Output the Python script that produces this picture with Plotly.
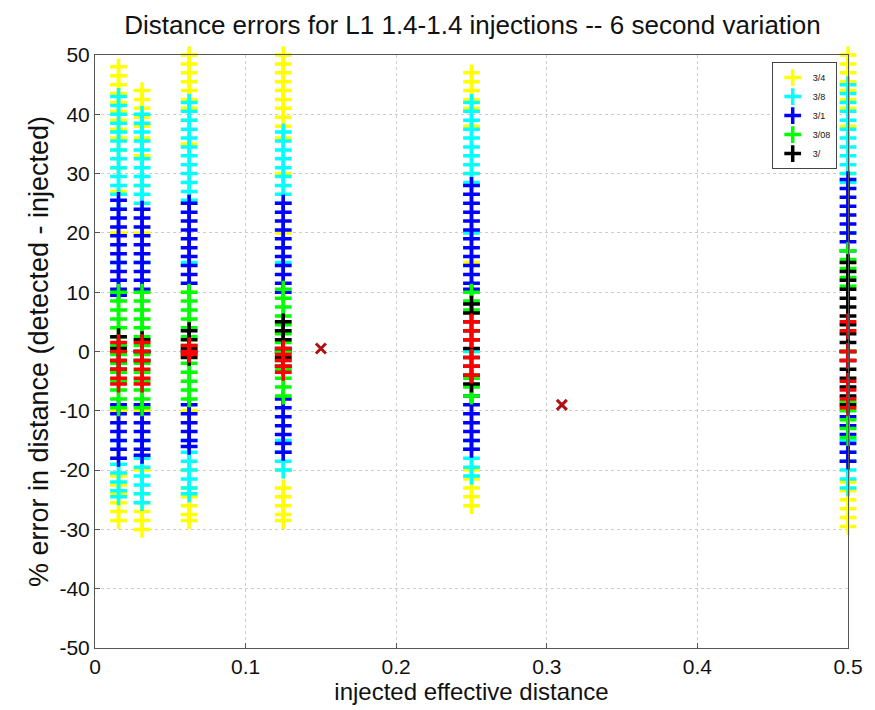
import plotly.graph_objects as go

dist = [0.015625, 0.03125, 0.0625, 0.125, 0.25, 0.5]

err_yellow = [
    [48, 46.5, 45, 43.5, 42, 40.5, 39, 37.5, 36, 34, 31, 27, 20, 10, 0, -10, -18, -21, -22.5, -24, -25.5, -27, -28.5],
    [44, 42.5, 41, 39.5, 38, 36, 33, 28, 20, 10, 0, -10, -20, -24, -25.5, -27, -28.5, -30],
    [50, 48.5, 47, 45.5, 44, 42.5, 41, 39, 35, 25, 10, 0, -10, -20, -23, -24.5, -26, -27.5, -28.5],
    [50, 48.5, 47, 45.5, 44, 42.5, 41, 39.5, 38, 36, 30, 20, 0, -20, -23, -24.5, -26, -27.5, -28.5],
    [47, 45.5, 44, 42.5, 41, 38, 30, 15, 0, -15, -20, -21.5, -23, -24.5, -26],
    [50, 48.5, 47, 45.5, 44, 42.5, 41, 38, 30, 15, 0, -15, -22, -23.5, -25, -26.5, -28, -29.5],
]
err_cyan = [
    [43, 41.5, 40, 38.5, 37, 35.5, 34, 32.5, 31, 29.5, 28, 26.5, 24, 15, 0, -15, -19, -20.5, -22, -23.5, -24.5],
    [40, 38.5, 37, 35.5, 34, 32.5, 31, 29.5, 28, 26.5, 25, 15, 0, -15, -18, -19.5, -21, -22.5, -24, -25.5],
    [42, 40.5, 39, 37.5, 36, 34.5, 33, 31.5, 30, 28.5, 27, 25.5, 15, 0, -15, -17, -18.5, -20, -21.5, -23, -24],
    [37, 35.5, 34, 32.5, 31, 29.5, 28, 26.5, 25, 15, 0, -15, -17, -18.5, -20],
    [42, 40.5, 39, 37.5, 36, 34.5, 33, 31.5, 30, 28.5, 20, 0, -15, -16.5, -18, -19.5, -21],
    [45, 43.5, 42, 40.5, 39, 37.5, 36, 34.5, 33, 31.5, 30, 28.5, 20, 0, -15, -17, -18.5, -20, -21.5, -23],
]
err_blue = [
    [25.5, 24, 22.5, 21, 19.5, 18, 16.5, 15, 13.5, 12, 10.5, 9.5, 0, -9, -10.5, -12, -13.5, -15, -16.5, -18],
    [24, 22.5, 21, 19.5, 18, 16.5, 15, 13.5, 12, 10.5, 0, -9, -10.5, -12, -13.5, -15, -16.5, -17.5],
    [25, 23.5, 22, 20.5, 19, 17.5, 16, 14.5, 13, 11.5, 0, -9, -10.5, -12, -13.5, -15, -16],
    [25, 23.5, 22, 20.5, 19, 17.5, 16, 14.5, 13, 11.5, 10, 0, -8, -9.5, -11, -12.5, -14, -15.5, -17],
    [28, 26.5, 25, 23.5, 22, 20.5, 19, 17.5, 16, 14.5, 13, 11.5, 10.5, -7.5, -9, -10.5, -12, -13.5, -15, -16.5],
    [29, 27.5, 26, 24.5, 23, 21.5, 20, 18.5, 17, -11, -12.5, -14, -15.5, -17, -18.5],
]
err_green = [
    [10, 8.5, 7, 5.5, 4, 2.5, 1, -0.5, -2, -3.5, -5, -6.5, -8, -9.5],
    [10, 8.5, 7, 5.5, 4, 2.5, 1, -0.5, -2, -3.5, -5, -6.5, -8, -9.5],
    [10, 8.5, 7, 5.5, 4, 2.5, 1, -0.5, -2, -3.5, -5, -6.5, -8],
    [10.5, 9, 7.5, 6, 4.5, 3, 1.5, 0, -1.5, -3, -4.5, -6, -7.5],
    [10, 8.5, 7, -4.5, -6, -7.5],
    [17, 15.5, 14, 12.5, 11, 0, -8.5, -10, -11.5, -13, -14.5],
]
err_black = [
    [2.5, 0.5, -1.5, -3],
    [2, 0, -1.5],
    [3.5, 2, 0.5, -1],
    [5, 3.5, 2, 0.5, -1, -2.5],
    [8, 6.5, 5, 3.5, 2, 0.5, -1, -2.5, -4, -5.5],
    [15, 13.5, 12, 10.5, 9, 7.5, 6, 4.5, 3, 1.5, 0, -1.5, -3, -4.5, -6, -7.5, -9],
]
err_red = [
    [1.5, 0, -1.5, -3, -4.5, -5.5],
    [1.5, 0, -1.5, -3, -4.5, -5.5],
    [1, 0, -0.5],
    [0.5, -0.5, -1.5, -2.5, -3.5],
    [5, 3.5, 2, -1, -2.5, -4],
    [5, 3.5, 0, -1.5, -5, -6.5, -8, -9.5],
]
mean_x = [0.15, 0.31]
mean_y = [0.5, -9]

x_ticks = [0, 0.1, 0.2, 0.3, 0.4, 0.5]
x_tick_labels = ["0", "0.1", "0.2", "0.3", "0.4", "0.5"]
y_ticks = [-50, -40, -30, -20, -10, 0, 10, 20, 30, 40, 50]
y_tick_labels = ["-50", "-40", "-30", "-20", "-10", "0", "10", "20", "30", "40", "50"]

series = [
    ("3/4", "#ffff00", err_yellow, True),
    ("3/8", "#00ffff", err_cyan, True),
    ("3/1", "#0000ff", err_blue, True),
    ("3/08", "#00ff00", err_green, True),
    ("3/", "#000000", err_black, True),
    ("red", "#ff0000", err_red, False),
]

fig = go.Figure()
for name, color, data, show in series:
    xs, ys = [], []
    for d, vals in zip(dist, data):
        for v in vals:
            xs.append(d)
            ys.append(v)
    fig.add_trace(go.Scatter(
        x=xs, y=ys, mode="markers", name=name, showlegend=show,
        cliponaxis=False,
        marker=dict(symbol="cross-thin", size=12, color=color,
                    line=dict(color=color, width=3.5)),
    ))

fig.add_trace(go.Scatter(
    x=mean_x, y=mean_y, mode="markers", showlegend=False,
    marker=dict(symbol="x-thin", size=10, color="#b01010",
                line=dict(color="#b01010", width=3)),
))

axis_common = dict(
    showline=True, linecolor="#555555", linewidth=1, mirror=True,
    ticks="inside", ticklen=5, tickcolor="#555555",
    showgrid=True, gridcolor="#cccccc", griddash="dot", gridwidth=1,
    zeroline=False, tickfont=dict(size=21, color="#111111"),
)

fig.update_layout(
    width=875, height=710,
    margin=dict(l=95, r=24, t=55, b=62),
    paper_bgcolor="white", plot_bgcolor="white",
    font=dict(family="Liberation Sans, Arial, sans-serif", color="#111111"),
    title=dict(text="Distance errors for L1 1.4-1.4 injections -- 6 second variation",
               x=0.54, xanchor="center", y=0.965, yanchor="middle",
               font=dict(size=26)),
    xaxis=dict(range=[0, 0.5], tickvals=x_ticks, ticktext=x_tick_labels,
               title=dict(text="injected effective distance", font=dict(size=24), standoff=0),
               **axis_common),
    yaxis=dict(range=[-50, 50], tickvals=y_ticks, ticktext=y_tick_labels,
               title=dict(text="% error in distance (detected - injected)", font=dict(size=27), standoff=2),
               **axis_common),
    legend=dict(x=0.985, xanchor="right", y=0.988, yanchor="top",
                bgcolor="white", bordercolor="#444444", borderwidth=1,
                font=dict(size=9), tracegroupgap=0, itemwidth=30),
)

fig.write_html("out.html")
